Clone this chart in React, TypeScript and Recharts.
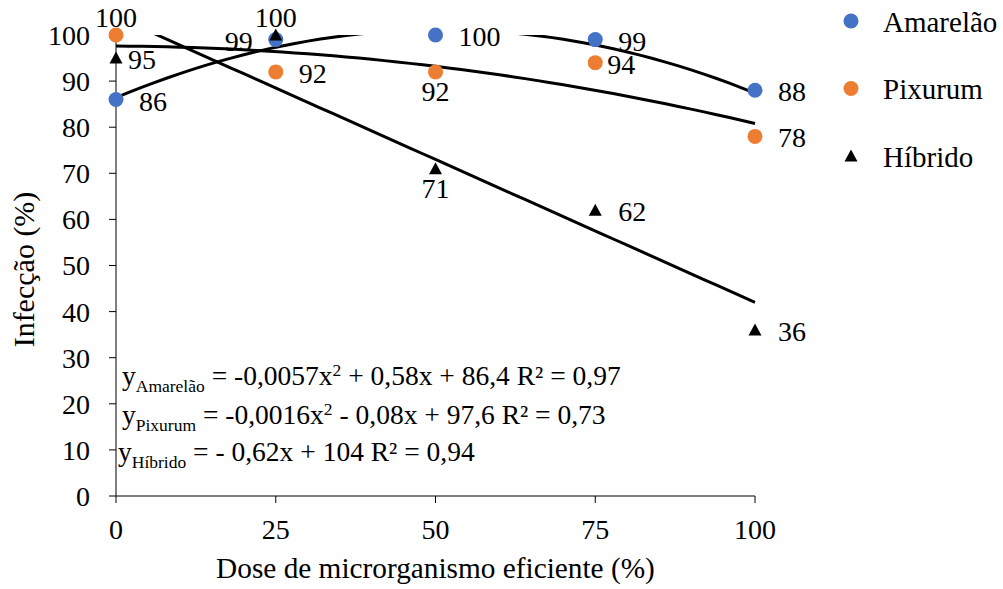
import React from "react";
import { ComposedChart, Scatter, Line, XAxis, YAxis, Legend } from "recharts";

const FONT = "Liberation Serif, serif";
const BLUE = "#4472C4";
const ORANGE = "#ED7D31";

// dose of efficient microorganism (%)
const doses = [0, 25, 50, 75, 100];
const amarelao = [86, 99, 100, 99, 88];
const pixurum = [100, 92, 92, 94, 78];
const hibrido = [95, 100, 71, 62, 36];

const xTicks = [0, 25, 50, 75, 100];
const yTicks = [0, 10, 20, 30, 40, 50, 60, 70, 80, 90, 100];

// trendline coefficients [a, b, c] for y = a*x^2 + b*x + c
const amarelaoFit = [-0.0057, 0.58, 86.4];
const pixurumFit = [-0.0016, -0.008, 97.6]; // drawn curve ends near 81, i.e. b = -0,008
const hibridoFit = [0, -0.62, 104];

// where each data label sits relative to its point
const amarelaoLabelPos = ["right", "left", "right", "right", "right"];
const pixurumLabelPos = ["top", "right", "bottom", "near", "right"];
const hibridoLabelPos = ["near", "top", "bottom", "right", "right"];

const toRows = (vals: number[], pos: string[]) =>
  doses.map((x, i) => ({ x, y: vals[i], pos: pos[i] }));

const trendX = Array.from({ length: 51 }, (_, i) => i * 2);
const toTrend = (c: number[]) =>
  trendX.map((x) => ({ x, y: c[0] * x * x + c[1] * x + c[2] }));

function labelAttrs(pos: string, cx: number, cy: number) {
  switch (pos) {
    case "left":
      return { x: cx - 23, y: cy + 11, textAnchor: "end" };
    case "top":
      return { x: cx, y: cy - 8, textAnchor: "middle" };
    case "bottom":
      return { x: cx, y: cy + 29, textAnchor: "middle" };
    case "near":
      return { x: cx + 12, y: cy + 11, textAnchor: "start" };
    default:
      return { x: cx + 23, y: cy + 11, textAnchor: "start" };
  }
}

function Marker({ kind, color, cx, cy }: any) {
  if (kind === "triangle")
    return (
      <polygon
        points={`${cx},${cy - 6.5} ${cx + 6.5},${cy + 5.5} ${cx - 6.5},${cy + 5.5}`}
        fill={color}
      />
    );
  return <circle cx={cx} cy={cy} r={7.5} fill={color} />;
}

const pointShape = (kind: string, color: string) => (p: any) => {
  const { cx, cy, payload } = p;
  const a: any = labelAttrs(payload.pos, cx, cy);
  return (
    <g>
      <Marker kind={kind} color={color} cx={cx} cy={cy} />
      <text x={a.x} y={a.y} textAnchor={a.textAnchor} fontSize={28} fontFamily={FONT} fill="#000">
        {payload.y}
      </text>
    </g>
  );
};

const legendItems = [
  { name: "Amarelão", kind: "circle", color: BLUE },
  { name: "Pixurum", kind: "circle", color: ORANGE },
  { name: "Híbrido", kind: "triangle", color: "#000" },
];

function LegendBox() {
  return (
    <svg width={168} height={180} style={{ display: "block" }}>
      {legendItems.map((it, i) => {
        const cy = 21 + i * 67.5;
        return (
          <g key={it.name}>
            <Marker kind={it.kind} color={it.color} cx={16} cy={cy} />
            <text x={48} y={cy + 10.5} fontSize={29} fontFamily={FONT} fill="#000">
              {it.name}
            </text>
          </g>
        );
      })}
    </svg>
  );
}

function Equations() {
  const big = 27.5;
  const small = 17.5;
  return (
    <svg
      width={1003}
      height={589}
      style={{ position: "absolute", left: 0, top: 0, pointerEvents: "none" }}
      fontFamily={FONT}
      fill="#000"
    >
      <text x={122} y={385} fontSize={big}>
        y<tspan fontSize={small} dy={7}>Amarelão</tspan>
        <tspan dy={-7}>{" = -0,0057x"}</tspan>
        <tspan fontSize={small} dy={-9}>2</tspan>
        <tspan dy={9}>{" + 0,58x + 86,4 R² = 0,97"}</tspan>
      </text>
      <text x={122} y={424} fontSize={big}>
        y<tspan fontSize={small} dy={7}>Pixurum</tspan>
        <tspan dy={-7}>{" = -0,0016x"}</tspan>
        <tspan fontSize={small} dy={-9}>2</tspan>
        <tspan dy={9}>{" - 0,08x + 97,6 R² = 0,73"}</tspan>
      </text>
      <text x={118} y={461} fontSize={big}>
        y<tspan fontSize={small} dy={7}>Híbrido</tspan>
        <tspan dy={-7}>{" = - 0,62x + 104 R² = 0,94"}</tspan>
      </text>
    </svg>
  );
}

const tickStyle = { fill: "#000", fontSize: 28, fontFamily: FONT };

export default function App() {
  return (
    <div style={{ position: "absolute", left: 0, top: 0, width: 1003, height: 589, background: "#fff", fontFamily: FONT }}>
      <ComposedChart width={1003} height={589} margin={{ top: 35, right: 80, bottom: 0, left: 0 }}>
        <XAxis
          type="number"
          dataKey="x"
          domain={[0, 100]}
          ticks={xTicks}
          interval={0}
          height={93}
          tickSize={7}
          tickMargin={16}
          tick={tickStyle}
          stroke="#000"
          label={{
            value: "Dose de microrganismo eficiente (%)",
            position: "insideBottom",
            offset: 11,
            fill: "#000",
            fontSize: 29.3,
            fontFamily: FONT,
          }}
        />
        <YAxis
          yAxisId="val"
          type="number"
          dataKey="y"
          domain={[0, 100]}
          ticks={yTicks}
          interval={0}
          width={116}
          tickSize={7}
          tickMargin={19}
          tick={tickStyle}
          stroke="#000"
          label={{
            content: ({ viewBox }: any) => {
              const x = viewBox.x + 34;
              const y = viewBox.y + viewBox.height / 2 + 4;
              return (
                <text
                  x={x}
                  y={y}
                  transform={`rotate(-90 ${x} ${y})`}
                  textAnchor="middle"
                  fontSize={30}
                  fontFamily={FONT}
                  fill="#000"
                >
                  Infecção (%)
                </text>
              );
            },
          }}
        />
        <YAxis yAxisId="trend" orientation="right" width={0} type="number" dataKey="y" domain={[0, 100]} allowDataOverflow hide />
        <Legend
          layout="vertical"
          align="right"
          verticalAlign="top"
          content={() => <LegendBox />}
          wrapperStyle={{ top: 0, right: 0, left: "auto", width: 168, height: 180 }}
        />
        <Scatter
          yAxisId="val"
          name="Amarelão"
          data={toRows(amarelao, amarelaoLabelPos)}
          dataKey="y"
          shape={pointShape("circle", BLUE)}
          isAnimationActive={false}
        />
        <Scatter
          yAxisId="val"
          name="Pixurum"
          data={toRows(pixurum, pixurumLabelPos)}
          dataKey="y"
          shape={pointShape("circle", ORANGE)}
          isAnimationActive={false}
        />
        <Scatter
          yAxisId="val"
          name="Híbrido"
          data={toRows(hibrido, hibridoLabelPos)}
          dataKey="y"
          shape={pointShape("triangle", "#000")}
          isAnimationActive={false}
        />
        <Line yAxisId="trend" data={toTrend(amarelaoFit)} dataKey="y" stroke="#000" strokeWidth={3} dot={false} activeDot={false} legendType="none" isAnimationActive={false} />
        <Line yAxisId="trend" data={toTrend(pixurumFit)} dataKey="y" stroke="#000" strokeWidth={3} dot={false} activeDot={false} legendType="none" isAnimationActive={false} />
        <Line yAxisId="trend" data={toTrend(hibridoFit)} dataKey="y" stroke="#000" strokeWidth={3} dot={false} activeDot={false} legendType="none" isAnimationActive={false} />
      </ComposedChart>
      <Equations />
    </div>
  );
}
